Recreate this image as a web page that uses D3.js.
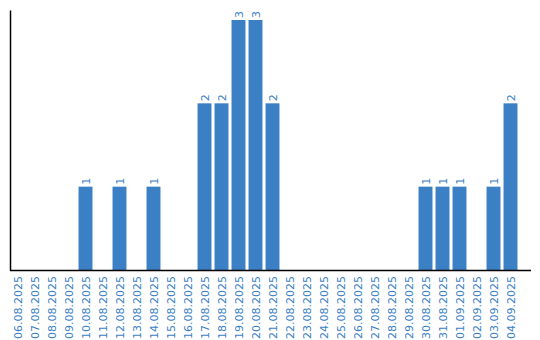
<!DOCTYPE html>
<html><head><meta charset="utf-8">
<script src="https://cdn.jsdelivr.net/npm/d3@7"></script>
<style>body{margin:0;background:#fff}svg{display:block}</style>
</head><body>
<svg id="c" width="540" height="340"></svg>
<script>
const dates = ["06.08.2025","07.08.2025","08.08.2025","09.08.2025","10.08.2025","11.08.2025","12.08.2025","13.08.2025","14.08.2025","15.08.2025","16.08.2025","17.08.2025","18.08.2025","19.08.2025","20.08.2025","21.08.2025","22.08.2025","23.08.2025","24.08.2025","25.08.2025","26.08.2025","27.08.2025","28.08.2025","29.08.2025","30.08.2025","31.08.2025","01.09.2025","02.09.2025","03.09.2025","04.09.2025"];
const counts = [0,0,0,0,1,0,1,0,1,0,0,2,2,3,3,2,0,0,0,0,0,0,0,0,1,1,1,0,1,2];

const svg = d3.select("#c");
const color = "#3b7fc4";
const font = "'DejaVu Sans', Verdana, sans-serif";

const x = d3.scaleBand().domain(dates).range([9, 519]).paddingInner(0.18).paddingOuter(0.09);
const y = d3.scaleLinear().domain([0, 3.12]).range([270, 10]);

svg.append("g").selectAll("rect").data(dates.map((d,i)=>({d, v:counts[i]})).filter(o=>o.v>0))
  .join("rect")
  .attr("x", o=>x(o.d)).attr("width", x.bandwidth())
  .attr("y", o=>y(o.v)).attr("height", o=>y(0)-y(o.v))
  .attr("fill", color);

svg.append("g").selectAll("text").data(dates.map((d,i)=>({d, v:counts[i]})).filter(o=>o.v>0))
  .join("text")
  .attr("transform", o=>`translate(${x(o.d)+x.bandwidth()/2+4},${y(o.v)-2}) rotate(-90)`)
  .style("font-family", font).style("font-size", "11px").attr("fill", color)
  .text(o=>o.v);

const xa = svg.append("g").attr("transform","translate(0,270)")
  .call(d3.axisBottom(x).tickSize(0).tickSizeOuter(0));
xa.select(".domain").attr("d","M10,0.5H531").attr("stroke","#000").attr("stroke-width",1.5);
xa.selectAll(".tick text")
  .style("font-family", font).style("font-size", "11px").attr("fill", color)
  .attr("text-anchor","end").attr("dy", null)
  .attr("transform","translate(4,6) rotate(-90)").attr("y",0).attr("x",0);

const ya = svg.append("g").attr("transform","translate(10,0)")
  .call(d3.axisLeft(y).tickValues([]).tickSizeOuter(0));
ya.select(".domain").attr("stroke","#000").attr("stroke-width",1.5);
</script>
</body></html>
